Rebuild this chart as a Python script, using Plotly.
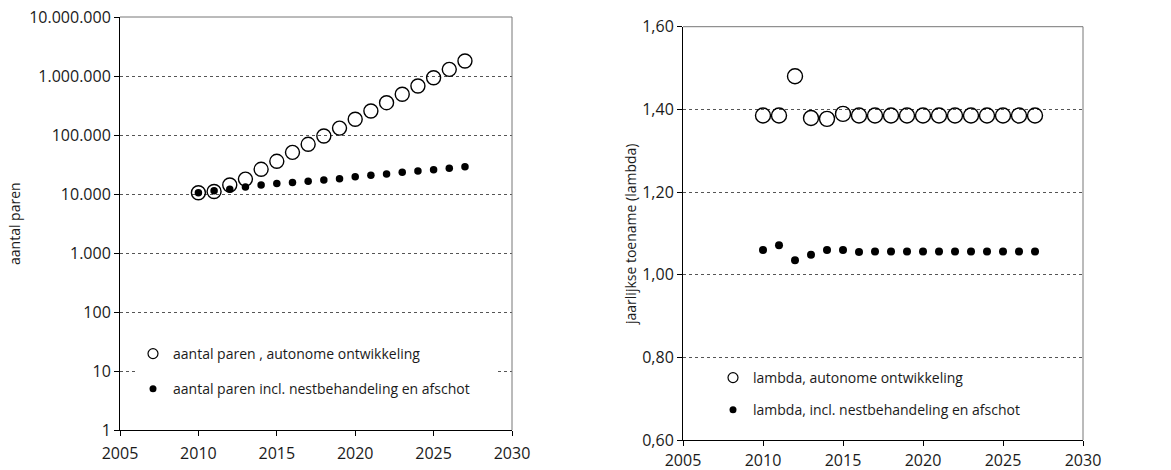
import plotly.graph_objects as go

years = list(range(2010, 2028))

pairs_autonomous = [10500, 11000, 14200, 17900, 26200, 35800, 50800, 69500, 96000,
                    131000, 185000, 255000, 353000, 490000, 676000, 935000, 1297000, 1795000]
pairs_managed = [10500, 11300, 12000, 13100, 14200, 15000, 15600, 16400, 17300,
                 18200, 19700, 20800, 21800, 23300, 24500, 25800, 27200, 29000]

lambda_autonomous = [1.385, 1.385, 1.48, 1.379, 1.377, 1.389, 1.385, 1.385, 1.385,
                     1.385, 1.385, 1.385, 1.385, 1.385, 1.385, 1.385, 1.385, 1.385]
lambda_managed = [1.060, 1.071, 1.035, 1.048, 1.060, 1.060, 1.055, 1.056, 1.056,
                  1.056, 1.056, 1.056, 1.056, 1.056, 1.056, 1.056, 1.056, 1.056]

log_tickvals = [1, 10, 100, 1000, 10000, 100000, 1000000, 10000000]
log_ticktext = ["1", "10", "100", "1.000", "10.000", "100.000", "1.000.000", "10.000.000"]
lam_tickvals = [0.6, 0.8, 1.0, 1.2, 1.4, 1.6]
lam_ticktext = ["0,60", "0,80", "1,00", "1,20", "1,40", "1,60"]
x_tickvals = [2005, 2010, 2015, 2020, 2025, 2030]

leg_left = ["aantal paren , autonome ontwikkeling", "aantal paren incl. nestbehandeling en afschot"]
leg_right = ["lambda, autonome ontwikkeling", "lambda, incl. nestbehandeling en afschot"]

FONT = "Open Sans"
TXT = "#1a1a1a"
W, H = 1171, 470

fig = go.Figure()

open_marker_l = dict(symbol="circle-open", size=14, color="black", line=dict(width=1.4, color="black"))
dot_marker_l = dict(symbol="circle", size=7.5, color="black")
open_marker_r = dict(symbol="circle-open", size=15, color="black", line=dict(width=1.4, color="black"))
dot_marker_r = dict(symbol="circle", size=8, color="black")

# data traces
fig.add_trace(go.Scatter(x=years, y=pairs_autonomous, mode="markers", marker=open_marker_l,
                         xaxis="x", yaxis="y", showlegend=False))
fig.add_trace(go.Scatter(x=years, y=pairs_managed, mode="markers", marker=dot_marker_l,
                         xaxis="x", yaxis="y", showlegend=False))
fig.add_trace(go.Scatter(x=years, y=lambda_autonomous, mode="markers", marker=open_marker_r,
                         xaxis="x2", yaxis="y2", showlegend=False))
fig.add_trace(go.Scatter(x=years, y=lambda_managed, mode="markers", marker=dot_marker_r,
                         xaxis="x2", yaxis="y2", showlegend=False))

# legend entries
leg_open = dict(symbol="circle-open", size=10, color="black", line=dict(width=1.2, color="black"))
leg_dot = dict(symbol="circle", size=7, color="black")
fig.add_trace(go.Scatter(x=[None], y=[None], mode="markers", marker=leg_open, name=leg_left[0],
                         legend="legend", legendgroup="a", xaxis="x", yaxis="y"))
fig.add_trace(go.Scatter(x=[None], y=[None], mode="markers", marker=leg_dot, name=leg_left[1],
                         legend="legend", legendgroup="b", xaxis="x", yaxis="y"))
fig.add_trace(go.Scatter(x=[None], y=[None], mode="markers", marker=leg_open, name=leg_right[0],
                         legend="legend2", legendgroup="c", xaxis="x2", yaxis="y2"))
fig.add_trace(go.Scatter(x=[None], y=[None], mode="markers", marker=leg_dot, name=leg_right[1],
                         legend="legend2", legendgroup="d", xaxis="x2", yaxis="y2"))

L_dom = [120 / W, 512 / W]
R_dom = [683 / W, 1083 / W]
L_ydom = [(H - 430) / H, (H - 17) / H]
R_ydom = [(H - 440) / H, (H - 26.7) / H]

tickfont = dict(family=FONT, size=16, color=TXT)
grid = dict(showgrid=True, gridcolor="#555555", griddash="3px,3px", gridwidth=1)

xcommon = dict(range=[2005, 2030], tickvals=x_tickvals, tickformat="d", ticks="outside",
               ticklen=5, tickcolor="black", showline=True, linecolor="black", linewidth=1,
               showgrid=False, zeroline=False, tickfont=tickfont, automargin=False, fixedrange=True)

fig.update_layout(
    width=W, height=H,
    margin=dict(l=0, r=0, t=0, b=0),
    paper_bgcolor="white", plot_bgcolor="white",
    font=dict(family=FONT, size=14, color=TXT),
    xaxis=dict(domain=L_dom, anchor="y", ticklabelstandoff=4, **xcommon),
    yaxis=dict(domain=L_ydom, anchor="x", type="log", range=[0, 7], tickvals=log_tickvals,
               ticktext=log_ticktext, ticks="outside", ticklen=5, tickcolor="black",
               showline=True, linecolor="black", linewidth=1, zeroline=False,
               tickfont=tickfont, automargin=False, fixedrange=True, **grid),
    xaxis2=dict(domain=R_dom, anchor="y2", ticklabelstandoff=1, **xcommon),
    yaxis2=dict(domain=R_ydom, anchor="x2", range=[0.6, 1.6], tickvals=lam_tickvals,
                ticktext=lam_ticktext, ticks="outside", ticklen=5, tickcolor="black",
                showline=True, linecolor="black", linewidth=1, zeroline=False,
                tickfont=tickfont, automargin=False, fixedrange=True, **grid),
    legend=dict(x=133 / W, y=(H - 338) / H, xanchor="left", yanchor="top", bgcolor="rgba(0,0,0,0)",
                font=dict(family=FONT, size=14, color=TXT), tracegroupgap=14,
                itemwidth=30, borderwidth=0),
    legend2=dict(x=713 / W, y=(H - 362) / H, xanchor="left", yanchor="top", bgcolor="rgba(0,0,0,0)",
                 font=dict(family=FONT, size=14, color=TXT), tracegroupgap=11,
                 itemwidth=30, borderwidth=0),
    annotations=[
        dict(text="aantal paren", x=14 / W, y=(H - 224) / H, xref="paper", yref="paper",
             textangle=-90, showarrow=False, font=dict(family=FONT, size=14, color=TXT),
             xanchor="center", yanchor="middle"),
        dict(text="jaarlijkse toename (lambda)", x=630 / W, y=(H - 235) / H, xref="paper", yref="paper",
             textangle=-90, showarrow=False, font=dict(family=FONT, size=14, color=TXT),
             xanchor="center", yanchor="middle"),
    ],
    shapes=[
        # white panel behind the left legend (hides part of the gridline at 10)
        dict(type="rect", xref="paper", yref="paper", x0=137 / W, x1=497 / W,
             y0=(H - 400) / H, y1=(H - 340) / H, fillcolor="white", line=dict(width=0),
             layer="above"),
        dict(type="line", xref="x domain", yref="y domain", x0=0, x1=1, y0=1, y1=1,
             line=dict(color="#777777", width=1)),
        dict(type="line", xref="x domain", yref="y domain", x0=1, x1=1, y0=0, y1=1,
             line=dict(color="#777777", width=1)),
        dict(type="line", xref="x2 domain", yref="y2 domain", x0=0, x1=1, y0=1, y1=1,
             line=dict(color="#777777", width=1)),
        dict(type="line", xref="x2 domain", yref="y2 domain", x0=1, x1=1, y0=0, y1=1,
             line=dict(color="#777777", width=1)),
    ],
    showlegend=True,
)

fig.write_html("out.html")
